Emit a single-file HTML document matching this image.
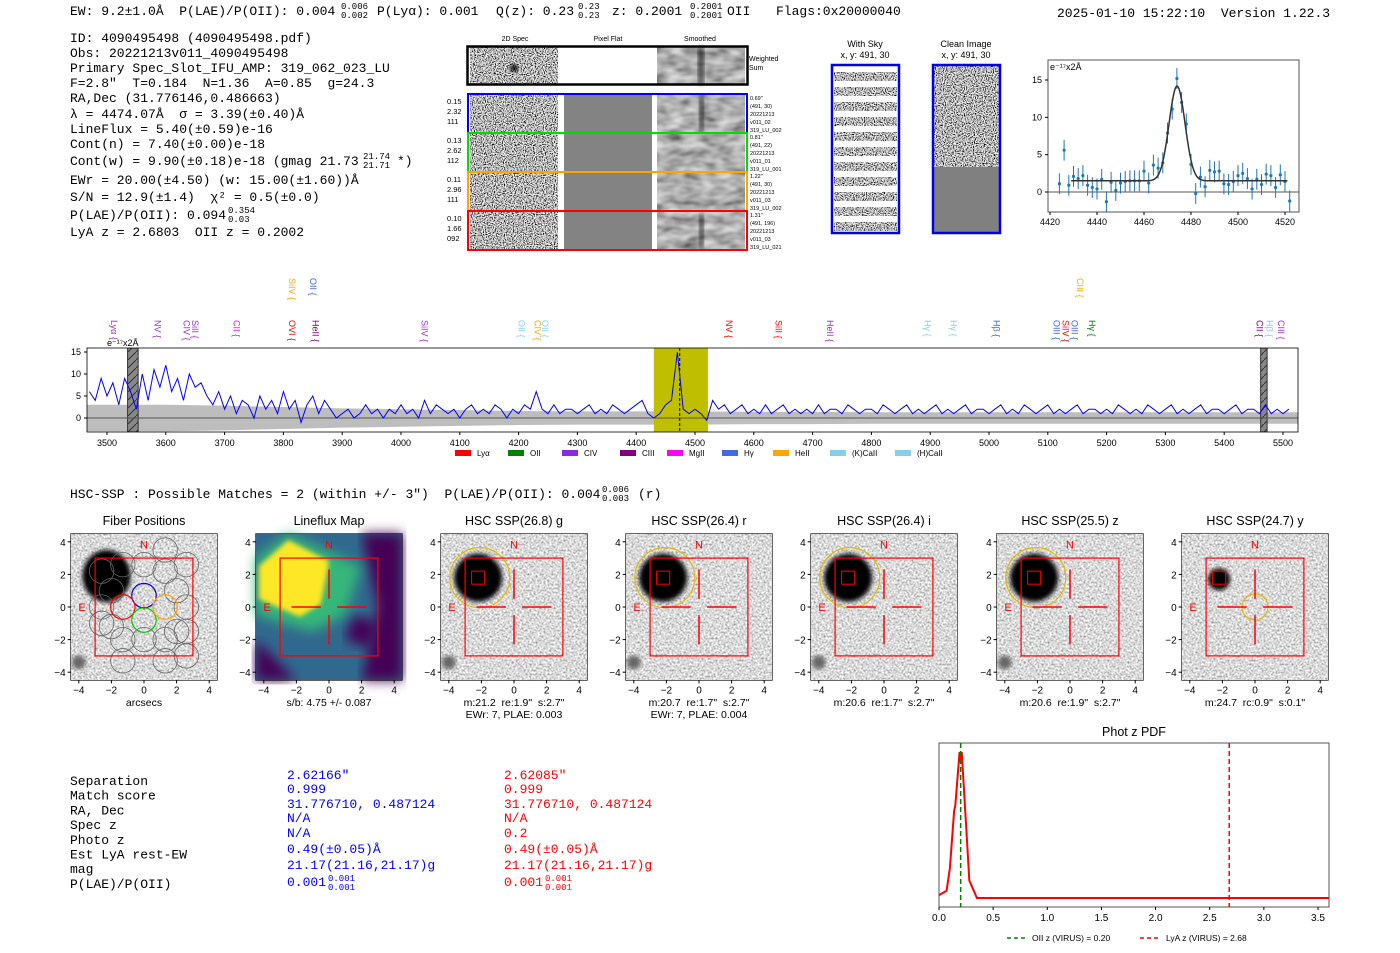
<!DOCTYPE html>
<html><head><meta charset="utf-8">
<style>
html,body{margin:0;padding:0;background:#fff;}
svg{display:block;font-family:"Liberation Sans",sans-serif;}
svg text{white-space:pre;}
.mono{font-family:"Liberation Mono",monospace;}
</style></head>
<body>
<svg id="fig" width="1400" height="953" viewBox="0 0 1400 953" xmlns="http://www.w3.org/2000/svg">
<defs>
<filter id="nz" x="0" y="0" width="100%" height="100%">
<feTurbulence type="fractalNoise" baseFrequency="0.9" numOctaves="1" seed="3"/>
<feColorMatrix type="matrix" values="3.2 0 0 0 -1.1  3.2 0 0 0 -1.1  3.2 0 0 0 -1.1  0 0 0 0 1"/>
</filter>
<filter id="nzl" x="0" y="0" width="100%" height="100%">
<feTurbulence type="fractalNoise" baseFrequency="0.5" numOctaves="1" seed="7"/>
<feColorMatrix type="matrix" values="1.3 0 0 0 0.05  1.3 0 0 0 0.05  1.3 0 0 0 0.05  0 0 0 0 1"/>
</filter>
<filter id="sm" x="0" y="0" width="100%" height="100%">
<feTurbulence type="fractalNoise" baseFrequency="0.06 0.12" numOctaves="2" seed="5"/>
<feColorMatrix type="matrix" values="0.85 0 0 0 0.0  0.85 0 0 0 0.0  0.85 0 0 0 0.0  0 0 0 0 1"/>
</filter>
<filter id="bl"><feGaussianBlur stdDeviation="2.5"/></filter>
<filter id="bl6"><feGaussianBlur stdDeviation="6"/></filter>
<pattern id="hatch" width="8" height="8" patternUnits="userSpaceOnUse"><rect width="8" height="8" fill="#888"/><path d="M0 8 L8 0" stroke="#333" stroke-width="1"/></pattern>
<clipPath id="specclip"><rect x="87" y="348" width="1211" height="84"/></clipPath>
<clipPath id="gclip"><rect x="1048" y="60" width="251" height="152"/></clipPath>
</defs>

<!-- header -->
<g class="mono" font-size="13">
<text x="70" y="15">EW: 9.2±1.0Å  P(LAE)/P(OII): 0.004</text>
<text x="341" y="9" font-size="9">0.006</text><text x="341" y="18" font-size="9">0.002</text>
<text x="377" y="15">P(Lyα): 0.001</text>
<text x="496" y="15">Q(z): 0.23</text>
<text x="578" y="9" font-size="9">0.23</text><text x="578" y="18" font-size="9">0.23</text>
<text x="612" y="15">z: 0.2001</text>
<text x="690" y="9" font-size="9">0.2001</text><text x="690" y="18" font-size="9">0.2001</text>
<text x="727" y="15">OII</text>
<text x="776" y="15">Flags:0x20000040</text>
<text x="1057" y="17">2025-01-10 15:22:10  Version 1.22.3</text>
</g>

<g class="mono" font-size="13">
<text x="70" y="42">ID: 4090495498 (4090495498.pdf)</text>
<text x="70" y="57">Obs: 20221213v011_4090495498</text>
<text x="70" y="72">Primary Spec_Slot_IFU_AMP: 319_062_023_LU</text>
<text x="70" y="87">F=2.8"  T=0.184  N=1.36  A=0.85  g=24.3</text>
<text x="70" y="102">RA,Dec (31.776146,0.486663)</text>
<text x="70" y="118">λ = 4474.07Å  σ = 3.39(±0.40)Å</text>
<text x="70" y="133">LineFlux = 5.40(±0.59)e-16</text>
<text x="70" y="148">Cont(n) = 7.40(±0.00)e-18</text>
<text x="70" y="165">Cont(w) = 9.90(±0.18)e-18 (gmag 21.73</text>
<text x="363" y="159" font-size="9">21.74</text><text x="363" y="168" font-size="9">21.71</text>
<text x="397" y="165">*)</text>
<text x="70" y="184">EWr = 20.00(±4.50) (w: 15.00(±1.60))Å</text>
<text x="70" y="201">S/N = 12.9(±1.4)  χ² = 0.5(±0.0)</text>
<text x="70" y="219">P(LAE)/P(OII): 0.094</text>
<text x="228" y="213" font-size="9">0.354</text><text x="228" y="222" font-size="9">0.03</text>
<text x="70" y="236">LyA z = 2.6803  OII z = 0.2002</text>
</g>

<!-- 2D spec panel -->
<g font-size="7">
<text x="515" y="41" text-anchor="middle">2D Spec</text>
<text x="608" y="41" text-anchor="middle">Pixel Flat</text>
<text x="700" y="41" text-anchor="middle">Smoothed</text>
<rect x="470" y="47" width="88" height="37" fill="#888" filter="url(#nz)"/>
<rect x="657" y="47" width="88" height="37" fill="#888" filter="url(#sm)"/>
<rect x="698" y="47" width="6" height="37" fill="#000" opacity="0.6" filter="url(#bl)"/>
<circle cx="514" cy="68" r="4" fill="#000" filter="url(#bl)"/>
<rect x="467.5" y="46.5" width="280" height="38" fill="none" stroke="#000" stroke-width="2.5"/>
<text x="749" y="61">Weighted</text><text x="749" y="70">Sum</text>
<g id="specrows"></g>
</g>

<!-- With Sky / Clean image -->
<g font-size="9">
<text x="865" y="47" text-anchor="middle">With Sky</text>
<text x="865" y="58" text-anchor="middle">x, y: 491, 30</text>
<rect x="832" y="65" width="67" height="168" fill="#fff"/>
<g id="skystripes"></g>
<rect x="832" y="65" width="67" height="168" fill="none" stroke="#0000ee" stroke-width="2.5"/>
<text x="966" y="47" text-anchor="middle">Clean Image</text>
<text x="966" y="58" text-anchor="middle">x, y: 491, 30</text>
<rect x="933" y="65" width="67" height="102" fill="#888" filter="url(#nz)"/>
<rect x="933" y="167" width="67" height="66" fill="#808080"/>
<rect x="933" y="65" width="67" height="168" fill="none" stroke="#0000ee" stroke-width="2.5"/>
</g>

<!-- gaussian fit plot -->
<g id="gplot" font-size="9"></g>

<!-- full spectrum -->
<g id="spec" font-size="9"></g>

<g class="mono" font-size="13">
<text x="70" y="498">HSC-SSP : Possible Matches = 2 (within +/- 3")  P(LAE)/P(OII): 0.004</text>
<text x="602" y="492" font-size="9">0.006</text><text x="602" y="501" font-size="9">0.003</text>
<text x="638" y="498">(r)</text>
</g>

<g id="cutouts"></g>

<!-- table -->
<g class="mono" font-size="13">
<g id="tbl"></g>
</g>

<g id="pdf" font-size="10"></g>
</svg>

<script>
const NS="http://www.w3.org/2000/svg";
function mk(parent,tag,attrs,txt){const e=document.createElementNS(NS,tag);for(const k in attrs)e.setAttribute(k,attrs[k]);if(txt!==undefined)e.textContent=txt;parent.appendChild(e);return e;}

/* ---------- spectrum data ---------- */
const specStart=3470, specStep=10;
const specFlux=[6,4,9,
5,8,3,9,6,2,10,4,11,7,
12,6,9,4,10,7,8,5,3,6,
2,5,1,4,3,0,5,2,4,1,
6,2,4,-1,3,5,1,4,2,0,
1,2,0,1,3,1,2,0,2,1,
3,1,2,0,4,1,3,2,1,2,
0,2,3,1,2,1,3,2,0,2,
1,3,2,6,2,1,3,1,2,2,
1,2,3,1,2,1,3,2,1,2,
3,4,1,0,1,3,4,15,2,1,
2,1,-0.5,4,2,3,1,2,3,1,
2,1,3,1,2,3,1,2,1,2,
1,3,1,2,2,1,3,2,1,2,
2,1,3,2,1,2,3,1,2,1,
2,3,1,2,1,2,3,1,2,2,
1,2,3,1,2,1,3,2,1,2,
3,1,2,1,2,3,1,2,2,1,
2,1,3,2,1,2,1,3,2,1,
2,3,1,2,1,2,3,1,2,2,
1,2,3,1,2,2,1,3,1,2,1,2];
const errWave=[3465,3600,3700,3800,3900,4000,4100,4200,4300,4400,4500,4600,4700,4800,4900,5000,5100,5200,5300,5400,5530];
const errVal=[3.0,3.0,2.8,2.5,2.2,2.0,1.8,1.6,1.5,1.5,1.5,1.4,1.4,1.3,1.3,1.3,1.3,1.3,1.3,1.3,1.3];
const specTicks=[3500,3600,3700,3800,3900,4000,4100,4200,4300,4400,4500,4600,4700,4800,4900,5000,5100,5200,5300,5400,5500];
const specYTicks=[0,5,10,15];
const lineNames=["Lyα","NV","CIV","SiII","CII","OVI","SiIV","OII","HeII","SiIV","OII","CIV","OII","NV","SiII","HeII","Hγ","Hγ","Hβ","OIII","SiIV","OIII","CIII","Hγ","CII","Hβ","CIII"];
const lineWaves=[3512,3586,3635,3650,3720,3815,3815,3850,3855,4040,4205,4232,4245,4558,4642,4730,4895,4940,5013,5115,5130,5145,5155,5175,5460,5477,5497];
const lineRow=[0,0,0,0,0,0,1,1,0,0,0,0,0,0,0,0,0,0,0,0,0,0,1,0,0,0,0];
const lineColors=["#9932cc","#9932cc","#9932cc","#9932cc","#ff00ff","#ff0000","#ffa500","#4169e1","#800080","#9932cc","#87ceeb","#ffa500","#87ceeb","#ff0000","#ff0000","#9932cc","#87ceeb","#87ceeb","#4169e1","#4169e1","#ff0000","#4169e1","#ffa500","#008000","#800080","#87ceeb","#9932cc"];

const sx=w=>107+(w-3500)*(1283-107)/2000;
const sy=f=>418-f*(418-352)/15;
const sp=document.getElementById('spec');
lineNames.forEach((n,i)=>{
  const x=sx(lineWaves[i]), y=lineRow[i]?278:320;
  const t=mk(sp,'text',{x:0,y:0,transform:`translate(${x-3},${y}) rotate(90)`,fill:lineColors[i],'font-size':9},n+" {");
  
  
});
mk(sp,'rect',{x:87,y:348,width:1211,height:84,fill:'#fff'});
const g=mk(sp,'g',{'clip-path':'url(#specclip)'});
let pts=[];errWave.forEach((w,i)=>pts.push(sx(w)+','+sy(errVal[i])));
for(let i=errWave.length-1;i>=0;i--)pts.push(sx(errWave[i])+','+sy(-errVal[i]));
const band=mk(g,'polygon',{points:pts.join(' '),fill:'#bdbdbd'});


const yw=mk(g,'rect',{x:sx(4430),y:348,width:sx(4522)-sx(4430),height:84,fill:'#bfbf00'});


mk(g,'rect',{x:sx(3535),y:348,width:sx(3553)-sx(3535),height:84,fill:'url(#hatch)',stroke:'#333'});
mk(g,'rect',{x:sx(5462),y:348,width:sx(5473)-sx(5462),height:84,fill:'url(#hatch)',stroke:'#333'});
mk(g,'line',{x1:87,x2:1298,y1:sy(0),y2:sy(0),stroke:'#555','stroke-width':1});
mk(g,'line',{x1:sx(4474),x2:sx(4474),y1:348,y2:432,stroke:'#000','stroke-dasharray':'3,2'});
const fl=mk(g,'polyline',{points:specFlux.map((f,i)=>sx(specStart+i*specStep)+','+sy(f)).join(' '),fill:'none',stroke:'#0000ff','stroke-width':1});


mk(sp,'rect',{x:87,y:348,width:1211,height:84,fill:'none',stroke:'#000','stroke-width':0.8});
specTicks.forEach(w=>{mk(sp,'line',{x1:sx(w),x2:sx(w),y1:432,y2:435,stroke:'#000'});mk(sp,'text',{x:sx(w),y:446,'text-anchor':'middle'},w);});
specYTicks.forEach(v=>{mk(sp,'line',{x1:84,x2:87,y1:sy(v),y2:sy(v),stroke:'#000'});mk(sp,'text',{x:81,y:sy(v)+3,'text-anchor':'end'},v);});
mk(sp,'text',{x:107,y:346},'e⁻¹⁷x2Å');
const legNames=["Lyα","OII","CIV","CIII","MgII","Hγ","HeII","(K)CaII","(H)CaII"];
const legColors=["#ff0000","#008000","#8a2be2","#800080","#ff00ff","#4169e1","#ffa500","#87ceeb","#87ceeb"];
const legX=[455,508,562,620,667,722,773,830,895];
legNames.forEach((n,i)=>{
  const le=mk(sp,'g',{});
  
  
  mk(le,'rect',{x:legX[i],y:450,width:16,height:6,fill:legColors[i]});
  mk(le,'text',{x:legX[i]+22,y:456,'font-size':8},n);
});

/* ---------- 2D spec rows ---------- */
const rowColors=["#0000ff","#00dd00","#ffa500","#ff0000"];
const rowLeft=[["0.15","2.32","111"],["0.13","2.62","112"],["0.11","2.96","111"],["0.10","1.66","092"]];
const rowRight=[["0.69\"","(491, 30)","20221213","v011_02","319_LU_002"],["0.81\"","(491, 22)","20221213","v011_01","319_LU_001"],["1.22\"","(491, 30)","20221213","v011_03","319_LU_002"],["1.31\"","(491, 196)","20221213","v011_03","319_LU_021"]];
const rowsG=document.getElementById('specrows');
const rowTop=[95,134,173,212];
rowTop.forEach((y,i)=>{
  const r=mk(rowsG,'g',{});
  
  
  mk(r,'rect',{x:470,y:y,width:88,height:38,fill:'#888',filter:'url(#nz)'});
  mk(r,'rect',{x:564,y:y,width:88,height:38,fill:'#838383'});
  mk(r,'rect',{x:657,y:y,width:88,height:38,fill:'#888',filter:'url(#sm)'});
  if(i==0||i==3) mk(r,'rect',{x:699,y:y+2,width:5,height:34,fill:'#000',opacity:0.55,filter:'url(#bl)'});
  mk(r,'rect',{x:468,y:y-1,width:279,height:39,fill:'none',stroke:rowColors[i],'stroke-width':2});
  rowLeft[i].forEach((t,k)=>mk(r,'text',{x:447,y:y+9+k*10,'font-size':7.5},t));
  rowRight[i].forEach((t,k)=>mk(r,'text',{x:750,y:y+5+k*8,'font-size':5.5},t));
});
const sk=document.getElementById('skystripes');
for(let k=0;k<11;k++){mk(sk,'rect',{x:834,y:72+k*15,width:63,height:9,fill:'#888',filter:'url(#nz)'});}

/* ---------- gaussian fit plot ---------- */
const gWave=[4424,4426,4428,4430,4432,4434,4436,4438,4440,4442,4444,4446,4448,4450,4452,4454,4456,4458,4460,4462,4464,4466,4468,4470,4472,4474,4476,4478,4480,4482,4484,4486,4488,4490,4492,4494,4496,4498,4500,4502,4504,4506,4508,4510,4512,4514,4516,4518,4520,4522];
const gFlux=[1.1,5.6,0.9,2.1,1.8,2.2,0.9,0.6,0.4,1.7,-1.3,1.3,0.2,1.2,1.4,1.5,1.5,1.5,2.8,1.2,3.6,3.2,3.9,7.9,11.1,15.2,12.0,9.1,3.7,-0.2,2.0,0.7,2.9,2.7,2.8,1.1,1.0,1.4,2.2,2.5,1.8,0.4,1.7,1.0,2.4,2.2,0.6,2.3,1.4,-1.2];
const gErr=[1.4,1.4,1.4,1.4,1.4,1.4,1.4,1.4,1.4,1.4,1.4,1.4,1.4,1.4,1.4,1.4,1.4,1.4,1.4,1.4,1.4,1.4,1.4,1.4,1.4,1.4,1.4,1.4,1.4,1.4,1.4,1.4,1.4,1.4,1.4,1.4,1.4,1.4,1.4,1.4,1.4,1.4,1.4,1.4,1.4,1.4,1.4,1.4,1.4,1.4];
const fitParams=[1.5,12.7,4474.07,3.39];
const gXTicks=[4420,4440,4460,4480,4500,4520];
const gYTicks=[0,5,10,15];
const gx=w=>1050+(w-4420)*(1285-1050)/100;
const gy=f=>192-f*(192-80)/15;
const gp=document.getElementById('gplot');
mk(gp,'rect',{x:1048,y:60,width:251,height:152,fill:'#fff'});
const gc=mk(gp,'g',{'clip-path':'url(#gclip)'});
mk(gc,'line',{x1:1048,x2:1299,y1:gy(0),y2:gy(0),stroke:'#555'});
gWave.forEach((w,i)=>{
  const pt=mk(gc,'g',{});
  
  
  mk(pt,'line',{x1:gx(w),x2:gx(w),y1:gy(gFlux[i]-gErr[i]),y2:gy(gFlux[i]+gErr[i]),stroke:'#1f77b4','stroke-width':1});
  mk(pt,'circle',{cx:gx(w),cy:gy(gFlux[i]),r:1.6,fill:'#1f77b4'});
});
let fp=[];for(let w=4429;w<=4521;w+=0.5){const f=fitParams[0]+fitParams[1]*Math.exp(-0.5*Math.pow((w-fitParams[2])/fitParams[3],2));fp.push(gx(w)+','+gy(f));}
const fit=mk(gc,'polyline',{points:fp.join(' '),fill:'none',stroke:'#333','stroke-width':1.5});


mk(gp,'rect',{x:1048,y:60,width:251,height:152,fill:'none',stroke:'#555'});
gXTicks.forEach(w=>{mk(gp,'line',{x1:gx(w),x2:gx(w),y1:212,y2:215,stroke:'#000'});mk(gp,'text',{x:gx(w),y:225,'text-anchor':'middle'},w);});
gYTicks.forEach(v=>{mk(gp,'line',{x1:1045,x2:1048,y1:gy(v),y2:gy(v),stroke:'#000'});mk(gp,'text',{x:1042,y:gy(v)+3,'text-anchor':'end'},v);});
mk(gp,'text',{x:1050,y:70},'e⁻¹⁷x2Å');

/* ---------- cutouts ---------- */
const cutTitles=["Fiber Positions","Lineflux Map","HSC SSP(26.8) g","HSC SSP(26.4) r","HSC SSP(26.4) i","HSC SSP(25.5) z","HSC SSP(24.7) y"];
const cutLabels=[["arcsecs"],["s/b: 4.75 +/- 0.087"],["m:21.2  re:1.9\"  s:2.7\"","EWr: 7, PLAE: 0.003"],["m:20.7  re:1.7\"  s:2.7\"","EWr: 7, PLAE: 0.004"],["m:20.6  re:1.7\"  s:2.7\""],["m:20.6  re:1.9\"  s:2.7\""],["m:24.7  rc:0.9\"  s:0.1\""]];
const cutX0=[144,329,514,699,884,1070,1255];
const cutTicks=[-4,-2,0,2,4];
const cu=document.getElementById('cutouts');
const ux=16.3, uy=16.3;
cutX0.forEach((x0,i)=>{
  const c=mk(cu,'g',{});
  
  
  const cx=u=>x0+u*ux, cy=v=>607-v*uy;
  const L=cx(-4.5),T=cy(4.5),W=9*ux,H=9*uy;
  if(i==1){
    mk(c,'rect',{x:L,y:T,width:W,height:H,fill:'#31688e'});
    mk(c,'polygon',{points:`${cx(2)},${cy(4.5)} ${cx(4.5)},${cy(4.5)} ${cx(4.5)},${cy(-4.5)} ${cx(2)},${cy(-4.5)} ${cx(3)},${cy(0)}`,fill:'#440154',filter:'url(#bl6)'});
    mk(c,'polygon',{points:`${cx(-4.5)},${cy(-2)} ${cx(-2)},${cy(-4.5)} ${cx(-4.5)},${cy(-4.5)}`,fill:'#440154',filter:'url(#bl6)'});
    mk(c,'polygon',{points:`${cx(1.5)},${cy(-0.5)} ${cx(3)},${cy(-1)} ${cx(2.5)},${cy(-2.5)} ${cx(1)},${cy(-2)}`,fill:'#440154',filter:'url(#bl6)'});
    mk(c,'polygon',{points:`${cx(-4.5)},${cy(3)} ${cx(-2.5)},${cy(4.5)} ${cx(2)},${cy(2.5)} ${cx(1)},${cy(-0.5)} ${cx(-1)},${cy(-1.5)} ${cx(-4.5)},${cy(-0.5)}`,fill:'#35b779',filter:'url(#bl6)'});
    mk(c,'polygon',{points:`${cx(-4.3)},${cy(2.5)} ${cx(-2.5)},${cy(4.1)} ${cx(0)},${cy(2.8)} ${cx(-0.5)},${cy(0.2)} ${cx(-1.8)},${cy(-0.6)} ${cx(-4.3)},${cy(0.5)}`,fill:'#fde725',filter:'url(#bl)'});
  } else {
    mk(c,'rect',{x:L,y:T,width:W,height:H,fill:'#bbb',filter:'url(#nzl)'});
    if(i==0) mk(c,'ellipse',{cx:cx(-2.3),cy:cy(1.9),rx:24,ry:26,fill:'#000',filter:'url(#bl)'});
    else if(i==6) mk(c,'circle',{cx:cx(-2.2),cy:cy(1.7),r:11,fill:'#000',filter:'url(#bl)'});
    else mk(c,'circle',{cx:cx(-2.2),cy:cy(1.8),r:24,fill:'#000',filter:'url(#bl)'});
    if(i!=6) mk(c,'circle',{cx:cx(-4),cy:cy(-3.4),r:7,fill:'#666',filter:'url(#bl)'});
  }
  if(i==0){
    const fibers=[[-2.6,2.2],[-1.3,2.6],[0,2.6],[1.3,2.2],[2.6,2.6],[-2.6,0],[2.6,0],[-2.6,-1],[-1.3,-2],[0,-2],[1.3,-2],[2.6,-1.5],[-1.3,-3.3],[1.3,-3.3],[-2,1],[2,1],[-2,-1.2],[2,-1.5],[1.3,3.5],[2.6,-3]];
    fibers.forEach(f=>mk(c,'circle',{cx:cx(f[0]),cy:cy(f[1]),r:ux*0.75,fill:'none',stroke:'#666','stroke-width':0.8}));
    [[0,0.7,'#0000ff'],[-1.3,0,'#ff0000'],[0,-0.8,'#00cc00'],[1.3,0,'#ffa500']].forEach(f=>mk(c,'circle',{cx:cx(f[0]),cy:cy(f[1]),r:ux*0.75,fill:'none',stroke:f[2],'stroke-width':1.2}));
  }
  if(i>=2&&i<=5) mk(c,'circle',{cx:cx(-2.1),cy:cy(1.8),r:30,fill:'none',stroke:'#e6b800','stroke-width':1.2});
  if(i==6) mk(c,'circle',{cx:cx(0),cy:cy(0),r:13,fill:'none',stroke:'#e6b800','stroke-width':1.2});
  if(i>=2) mk(c,'rect',{x:cx(-2.6),y:cy(2.2),width:0.8*ux,height:0.8*uy,fill:'none',stroke:'#f00','stroke-width':1});
  mk(c,'rect',{x:cx(-3),y:cy(3),width:6*ux,height:6*uy,fill:'none',stroke:'#f00','stroke-width':1.2});
  if(i>=1){
    mk(c,'line',{x1:cx(-2.3),x2:cx(-0.5),y1:cy(0),y2:cy(0),stroke:'#f00','stroke-width':1.5});
    mk(c,'line',{x1:cx(0.5),x2:cx(2.3),y1:cy(0),y2:cy(0),stroke:'#f00','stroke-width':1.5});
    mk(c,'line',{x1:cx(0),x2:cx(0),y1:cy(2.3),y2:cy(0.5),stroke:'#f00','stroke-width':1.5});
    mk(c,'line',{x1:cx(0),x2:cx(0),y1:cy(-0.5),y2:cy(-2.3),stroke:'#f00','stroke-width':1.5});
  } else mk(c,'text',{x:cx(0),y:cy(0)+4,fill:'#f00','text-anchor':'middle','font-size':11},'+');
  mk(c,'text',{x:cx(0),y:cy(3.6),fill:'#f00','text-anchor':'middle','font-size':11},'N');
  mk(c,'text',{x:cx(-3.8),y:cy(0)+4,fill:'#f00','text-anchor':'middle','font-size':11},'E');
  mk(c,'rect',{x:L,y:T,width:W,height:H,fill:'none',stroke:'#000','stroke-width':0.6});
  mk(c,'text',{x:x0,y:525,'text-anchor':'middle','font-size':12.5},cutTitles[i]);
  cutTicks.forEach(t=>{
    mk(c,'line',{x1:cx(t),x2:cx(t),y1:T+H,y2:T+H+3,stroke:'#000'});
    mk(c,'text',{x:cx(t),y:T+H+13,'text-anchor':'middle','font-size':10},t==0?'0':(t<0?'−'+(-t):t));
    mk(c,'line',{x1:L-3,x2:L,y1:cy(t),y2:cy(t),stroke:'#000'});
    mk(c,'text',{x:L-5,y:cy(t)+4,'text-anchor':'end','font-size':10},t==0?'0':(t<0?'−'+(-t):t));
  });
  cutLabels[i].forEach((s,k)=>mk(c,'text',{x:x0,y:706+k*12,'text-anchor':'middle','font-size':10.5},s));
});

/* ---------- table ---------- */
const tblLabels=["Separation","Match score","RA, Dec","Spec z","Photo z","Est LyA rest-EW","mag","P(LAE)/P(OII)"];
const tblBlue=["2.62166\"","0.999","31.776710, 0.487124","N/A","N/A","0.49(±0.05)Å","21.17(21.16,21.17)g","0.001"];
const tblRed=["2.62085\"","0.999","31.776710, 0.487124","N/A","0.2","0.49(±0.05)Å","21.17(21.16,21.17)g","0.001"];
const tblValY=[779,793,808,822,837,853,869,886];
const tb=document.getElementById('tbl');
tblLabels.forEach((l,k)=>{
  mk(tb,'text',{x:70,y:785+k*14.7},l);
  mk(tb,'text',{x:287,y:tblValY[k],fill:'#0000ff'},tblBlue[k]);
  mk(tb,'text',{x:504,y:tblValY[k],fill:'#ff0000'},tblRed[k]);
});
mk(tb,'text',{x:328,y:881,fill:'#0000ff','font-size':9},'0.001');mk(tb,'text',{x:328,y:890,fill:'#0000ff','font-size':9},'0.001');
mk(tb,'text',{x:545,y:881,fill:'#ff0000','font-size':9},'0.001');mk(tb,'text',{x:545,y:890,fill:'#ff0000','font-size':9},'0.001');

/* ---------- photz pdf ---------- */
const pdfZ=[0,0.07,0.1,0.14,0.15,0.19,0.2,0.21,0.25,0.28,0.35,3.6];
const pdfP=[0.02,0.05,0.2,0.6,0.63,1.0,0.93,1.0,0.5,0.12,0,0];
const pdfTicks=[0,0.5,1,1.5,2,2.5,3,3.5];
const oiiZ=0.20, lyaZ=2.68;
const px=z=>939+z*(1318-939)/3.5;
const py=p=>898-p*(898-752);
const pd=document.getElementById('pdf');
mk(pd,'text',{x:1134,y:736,'text-anchor':'middle','font-size':12.5},'Phot z PDF');
mk(pd,'rect',{x:939,y:743,width:390,height:164,fill:'#fff',stroke:'#555'});
const pl=mk(pd,'polyline',{points:pdfZ.map((z,i)=>px(z)+','+py(pdfP[i])).join(' '),fill:'none',stroke:'#ff0000','stroke-width':2});


const ol=mk(pd,'line',{x1:px(oiiZ),x2:px(oiiZ),y1:743,y2:907,stroke:'#008000','stroke-width':1.5,'stroke-dasharray':'5,3'});


const ll=mk(pd,'line',{x1:px(lyaZ),x2:px(lyaZ),y1:743,y2:907,stroke:'#ff0000','stroke-width':1.5,'stroke-dasharray':'5,3'});


pdfTicks.forEach(t=>{mk(pd,'line',{x1:px(t),x2:px(t),y1:907,y2:910,stroke:'#000'});mk(pd,'text',{x:px(t),y:921,'text-anchor':'middle'},t.toFixed(1));});
mk(pd,'line',{x1:1007,x2:1025,y1:938,y2:938,stroke:'#008000','stroke-width':1.5,'stroke-dasharray':'4,3'});
mk(pd,'text',{x:1032,y:941,'font-size':8.5},'OII z (VIRUS) = 0.20');
mk(pd,'line',{x1:1140,x2:1158,y1:938,y2:938,stroke:'#ff0000','stroke-width':1.5,'stroke-dasharray':'4,3'});
mk(pd,'text',{x:1166,y:941,'font-size':8.5},'LyA z (VIRUS) = 2.68');
</script>
</body></html>
